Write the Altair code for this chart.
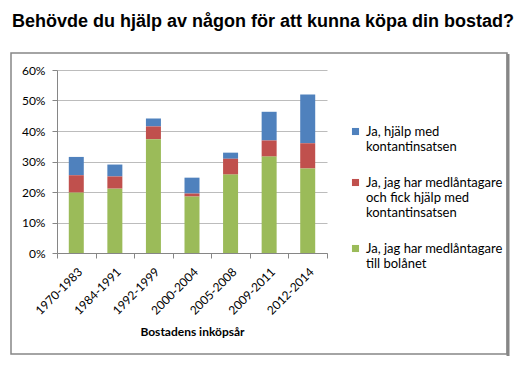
import altair as alt
import pandas as pd

periods = ["1970-1983", "1984-1991", "1992-1999", "2000-2004", "2005-2008", "2009-2011", "2012-2014"]
green_vals = [19.8, 21.1, 37.3, 18.5, 25.7, 31.6, 27.7]
red_vals = [5.7, 4.0, 4.2, 1.0, 5.2, 5.3, 8.3]
blue_vals = [6.0, 3.9, 2.6, 5.2, 2.0, 9.4, 16.0]
series = [
    "Ja, hjälp med|kontantinsatsen",
    "Ja, jag har medlåntagare|och fick hjälp med|kontantinsatsen",
    "Ja, jag har medlåntagare|till bolånet",
]
colors = ["#4F81BD", "#C0504D", "#9BBB59"]
title_text = "Behövde du hjälp av någon för att kunna köpa din bostad?"
x_title = "Bostadens inköpsår"
y_ticks = [0, 0.1, 0.2, 0.3, 0.4, 0.5, 0.6]

rows = []
for i, p in enumerate(periods):
    for s, vals, order in zip(series, [blue_vals, red_vals, green_vals], [2, 1, 0]):
        rows.append({"period": p, "series": s, "value": vals[i] / 100, "stack": order})
df = pd.DataFrame(rows)

bars = alt.Chart(df).mark_bar(width=15).encode(
    x=alt.X("period:N", sort=periods,
            scale=alt.Scale(paddingInner=0, paddingOuter=0),
            axis=alt.Axis(title=x_title, labelAngle=-45, tickBand="extent",
                          domainColor="#868686", tickColor="#868686", tickSize=5,
                          labelFont="Lato", labelFontSize=12, labelColor="#000000",
                          labelPadding=8,
                          titleFont="Lato", titleFontSize=12, titleFontWeight="bold",
                          titleColor="#000000", titlePadding=10, grid=False)),
    y=alt.Y("value:Q", stack="zero",
            scale=alt.Scale(domain=[0, 0.6], nice=False),
            axis=alt.Axis(format=".0%", values=y_ticks, grid=True, gridColor="#bcbcbc",
                          domainColor="#868686", tickColor="#868686", tickSize=5,
                          labelPadding=7, title=None, labelFont="Lato",
                          labelFontSize=12, labelColor="#000000")),
    color=alt.Color("series:N", sort=series,
                    scale=alt.Scale(domain=series, range=colors),
                    legend=alt.Legend(orient="none", legendX=292, legendY=55, title=None,
                                      symbolType="square", symbolSize=50,
                                      symbolStrokeWidth=0,
                                      labelExpr="split(datum.label, '|')",
                                      labelFont="Lato", labelFontSize=13,
                                      labelColor="#000000", labelLimit=300,
                                      rowPadding=22)),
    order=alt.Order("stack:Q", sort="ascending"),
)

box = alt.Chart(pd.DataFrame({"a": [0]})).mark_rect(
    filled=False, stroke="#868686", strokeWidth=1.5
).encode(x=alt.value(-46), x2=alt.value(450), y=alt.value(-17), y2=alt.value(284))

shadow = alt.Chart(pd.DataFrame({"a": [0]})).mark_rule(
    stroke="#868686", strokeWidth=3
).encode(x=alt.value(451), y=alt.value(-16), y2=alt.value(286))

chart = alt.layer(box, shadow, bars).properties(
    width=270, height=183,
    title=alt.TitleParams(title_text, anchor="start", font="Liberation Sans",
                          fontSize=18, fontWeight="bold", color="#000000",
                          frame="group", dx=-45, offset=21),
    autosize=alt.AutoSizeParams(type="none"),
    padding={"left": 49, "top": 62, "right": 190, "bottom": 110},
).configure_view(stroke=None)

chart.save("out.html", embed_options={"renderer": "svg", "actions": False})
